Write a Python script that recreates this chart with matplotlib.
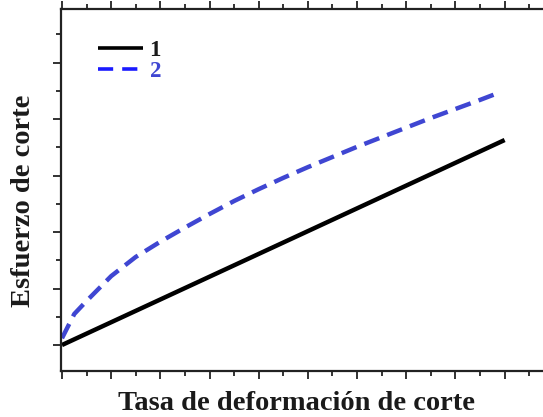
import numpy as np
import matplotlib
matplotlib.use("Agg")
import matplotlib.pyplot as plt
from matplotlib.ticker import MultipleLocator

# curve 1: straight line (newtonian)
x1 = [0.0, 9.0]
y1 = [0.0, 3.63]

# curve 2: shear-thinning
x2 = [0.0, 0.25, 0.5, 1.0, 1.5, 2.0, 2.5, 3.0, 3.5, 4.0, 4.5,
      5.0, 5.5, 6.0, 6.5, 7.0, 7.5, 8.0, 8.5, 8.8]
y2 = [0.12, 0.55, 0.78, 1.22, 1.56, 1.83, 2.08, 2.32, 2.55, 2.76, 2.96,
      3.15, 3.33, 3.51, 3.68, 3.85, 4.02, 4.18, 4.34, 4.44]

labels = ["1", "2"]
xlabel = "Tasa de deformación de corte"
ylabel = "Esfuerzo de corte"

blue = "#3f46d2"
textcol = "#1a1a1a"

fig = plt.figure(figsize=(5.43, 4.17), dpi=100)
ax = fig.add_axes([61 / 543, 46 / 417, 1 - 61 / 543, 362 / 417])

ax.plot(x1, y1, color="black", lw=3.2, solid_capstyle="butt", label=labels[0])
ax.plot(x2, y2, color=blue, lw=3.2, dashes=(3.6, 1.9), label=labels[1])

ax.set_xlim(-0.02, 9.78)
ax.set_ylim(-0.46, 5.95)

ax.xaxis.set_major_locator(MultipleLocator(1))
ax.xaxis.set_minor_locator(MultipleLocator(0.5))
ax.yaxis.set_major_locator(MultipleLocator(1))
ax.yaxis.set_minor_locator(MultipleLocator(0.5))
ax.tick_params(which="both", direction="out", width=1.3, colors="#222222",
               top=True, bottom=True, left=True, right=False,
               labelbottom=False, labelleft=False)
ax.tick_params(which="major", length=6)
ax.tick_params(which="minor", length=3.5)

for side in ["left", "bottom", "top"]:
    ax.spines[side].set_linewidth(1.6)
    ax.spines[side].set_color("#222222")
ax.spines["right"].set_visible(False)

font = dict(family="Liberation Serif", weight="bold", size=20.5, color=textcol)
ax.set_xlabel(xlabel, fontdict=font)
ax.set_ylabel(ylabel, fontdict=font)
ax.xaxis.set_label_coords(0.4886, -0.055)
ax.yaxis.set_label_coords(-0.052, 0.47)

leg = ax.legend(loc="upper left", bbox_to_anchor=(0.034, 0.971), frameon=False,
                handlelength=1.95, handletextpad=0.3, labelspacing=0.0,
                prop=dict(family="Liberation Serif", weight="bold", size=16.5),
                labelcolor=[textcol, blue])
leg.get_lines()[0].set_linewidth(2.6)
leg.get_lines()[1].set_linewidth(2.6)
leg.get_lines()[1].set_dashes((4.2, 2.5))
leg.get_lines()[1].set_color("#1a1aff")

fig.savefig("out.png", dpi=100)
